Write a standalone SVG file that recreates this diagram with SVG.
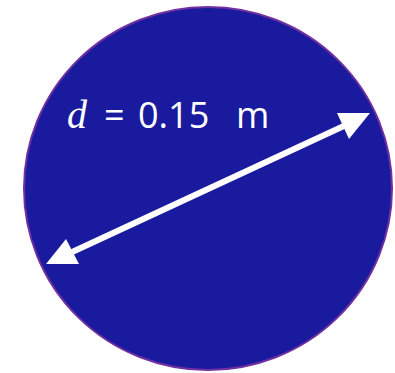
<svg xmlns="http://www.w3.org/2000/svg" width="395" height="373" viewBox="0 0 395 373">
<style>
.disk{fill:#1a1a9e;stroke:#7030a0;stroke-width:2}
.dim{stroke:#ffffff;stroke-width:6;fill:none}
.head{fill:#ffffff}
.lbl{fill:#ffffff;font-family:"Open Sans","Liberation Sans",Arial,sans-serif;font-size:36px}
.var{fill:#ffffff;font-family:"Liberation Serif","Times New Roman",serif;font-style:italic;font-size:40px}
</style>
<g id="disk">
<ellipse class="disk" cx="208" cy="188.5" rx="184" ry="181.5"/>
</g>
<g id="connectors">
<line class="dim" x1="70" y1="253" x2="346" y2="125"/>
<polygon class="head" points="370,113 337,113 349,139"/>
<polygon class="head" points="46,264 66,239 79,264"/>
</g>
<g id="label">
<text x="67" y="128" class="var">d</text>
<text class="lbl" y="128"><tspan x="104">=</tspan><tspan x="138">0.15</tspan><tspan x="236">m</tspan></text>
</g>
</svg>
